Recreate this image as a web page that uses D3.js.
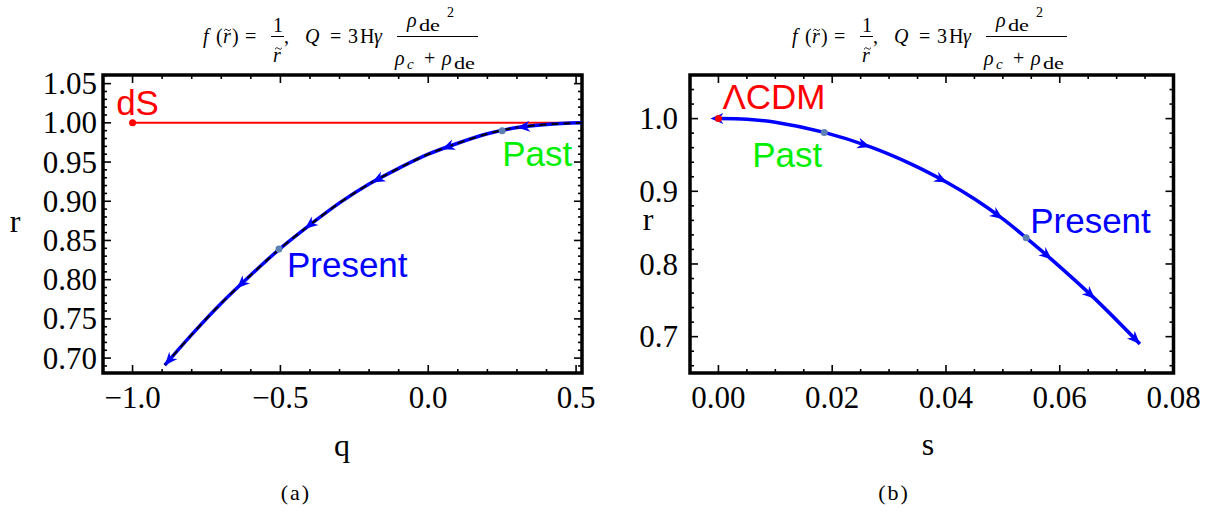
<!DOCTYPE html>
<html><head><meta charset="utf-8">
<script src="https://cdn.jsdelivr.net/npm/d3@7"></script>
<style>body{margin:0;background:#fff}svg{display:block}</style>
</head><body><svg id="c" width="1223" height="512"></svg>
<script>
// ---------- data ----------
// Panel (a): r vs q
const qValues  = [-0.891,-0.80,-0.70,-0.60,-0.50,-0.40,-0.30,-0.20,-0.10,0.00,0.10,0.20,0.30,0.40,0.52];
const rValuesA = [0.691,0.730,0.770,0.806,0.840,0.870,0.898,0.922,0.942,0.960,0.974,0.986,0.994,0.998,1.000];
const arrowQ   = [-0.891,-0.647,-0.417,-0.190,0.046,0.300];
const dSPoint  = [-1.0, 1.0];
const pastA    = [0.25, 0.990];
const presentA = [-0.505, 0.839];
const xTicksA  = [-1.0,-0.5,0.0,0.5];
const yTicksA  = [0.70,0.75,0.80,0.85,0.90,0.95,1.00,1.05];
// Panel (b): r vs s
const sValues  = [0.000,0.005,0.010,0.0186,0.0267,0.034,0.0402,0.0451,0.050,0.0541,0.0586,0.0662,0.0741];
const rValuesB = [1.000,0.999,0.995,0.981,0.961,0.937,0.912,0.889,0.862,0.836,0.806,0.752,0.690];
const arrowS   = [0.0267,0.0402,0.050,0.0586,0.0662,0.0741];
const lcdmPoint= [0.0, 1.0];
const pastB    = [0.0186, 0.981];
const presentB = [0.0541, 0.836];
const xTicksB  = [0.00,0.02,0.04,0.06,0.08];
const yTicksB  = [0.7,0.8,0.9,1.0];

const SERIF = "'Liberation Serif','Times New Roman',Times,serif";
const SANS = "'Liberation Sans',Arial,Helvetica,sans-serif";
const svg = d3.select("#c");
const BLUE="#0000ff", RED="#ff0000", GREEN="#00ee00", DOT="#5e81b5";

function panel(cfg){
  const x = d3.scaleLinear().domain(cfg.xd).range([cfg.l,cfg.r]);
  const y = d3.scaleLinear().domain(cfg.yd).range([cfg.b,cfg.t]);
  const g = svg.append("g");
  const tk = g.append("g").attr("stroke","#000").attr("stroke-width",1.6);
  const minorX = d3.range(Math.ceil(cfg.xd[0]/cfg.mx-1e-9)*cfg.mx, cfg.xd[1]+1e-9, cfg.mx);
  const minorY = d3.range(Math.ceil(cfg.yd[0]/cfg.my-1e-9)*cfg.my, cfg.yd[1]+1e-9, cfg.my);
  const isMajor = (v,step)=>Math.abs(v/step-Math.round(v/step))<1e-6;
  minorX.forEach(v=>{
    const L = isMajor(v,cfg.Mx)?8:4, px=x(v);
    tk.append("line").attr("x1",px).attr("x2",px).attr("y1",cfg.b).attr("y2",cfg.b-L);
    tk.append("line").attr("x1",px).attr("x2",px).attr("y1",cfg.t).attr("y2",cfg.t+L);
  });
  minorY.forEach(v=>{
    const L = isMajor(v,cfg.My)?8:4, py=y(v);
    tk.append("line").attr("y1",py).attr("y2",py).attr("x1",cfg.l).attr("x2",cfg.l+L);
    tk.append("line").attr("y1",py).attr("y2",py).attr("x1",cfg.r).attr("x2",cfg.r-L);
  });
  const lab = g.append("g").attr("font-family",SERIF).attr("font-size",31).attr("fill","#000");
  cfg.xt.forEach(v=>lab.append("text").attr("x",x(v)).attr("y",408).attr("text-anchor","middle").text(cfg.fx(v)));
  cfg.yt.forEach(v=>lab.append("text").attr("x",cfg.ylx).attr("y",y(v)).attr("dy","0.34em").attr("text-anchor","end").text(cfg.fy(v)));
  g.append("rect").attr("x",cfg.l).attr("y",cfg.t).attr("width",cfg.r-cfg.l).attr("height",cfg.b-cfg.t)
    .attr("fill","none").attr("stroke","#000").attr("stroke-width",3.5);
  return {x,y,g};
}

function arrowHead(g,x,y,X,Y,t,dir,fill){
  const interp = v=>{
    let i = d3.bisectLeft(X,v); i=Math.max(1,Math.min(X.length-1,i));
    const f=(v-X[i-1])/(X[i]-X[i-1]);
    return [x(v), y(Y[i-1]+f*(Y[i]-Y[i-1]))];
  };
  const p = interp(t);
  const span = (X[X.length-1]-X[0])*0.01;
  const q = interp(Math.max(X[0],Math.min(X[X.length-1], t - dir*span)));
  const ang = Math.atan2(p[1]-q[1], p[0]-q[0])*180/Math.PI;
  g.append("path").attr("d","M0,0L-13,-5.5L-9,0L-13,5.5Z").attr("fill",fill)
    .attr("transform",`translate(${p[0]},${p[1]}) rotate(${ang})`);
}

function drawTitle(x0){
  const t = svg.append("g").attr("font-family",SERIF).attr("font-size",20).attr("fill","#000");
  const txt=(dx,y,s,o={})=>{const e=t.append("text").attr("x",x0+dx).attr("y",y).text(s);
    if(o.i)e.attr("font-style","italic"); if(o.fs)e.attr("font-size",o.fs); if(o.a)e.attr("text-anchor",o.a);
    if(o.w)e.attr("textLength",o.w).attr("lengthAdjust","spacingAndGlyphs"); return e;};
  const tilde=(cx,cy)=>t.append("path")
    .attr("d",`M${x0+cx-3.5},${cy+0.8}Q${x0+cx-1.75},${cy-2.2} ${x0+cx},${cy}T${x0+cx+3.5},${cy-0.8}`)
    .attr("fill","none").attr("stroke","#000").attr("stroke-width",0.9);
  txt(0,43,"f",{i:1});
  txt(13,43,"(");
  txt(20,43,"r",{i:1});
  tilde(24.5,30);
  txt(29,43,")");
  txt(42,43,"=");
  txt(75,32,"1",{a:"middle"});
  t.append("line").attr("x1",x0+68).attr("x2",x0+81).attr("y1",36.5).attr("y2",36.5).attr("stroke","#000").attr("stroke-width",1);
  tilde(75.5,48.5);
  txt(74,62,"r",{i:1,a:"middle"});
  txt(81,43,",");
  txt(102,43,"Q",{i:1});
  txt(127,43,"=");
  txt(145,43,"3");
  txt(157,43,"H");
  txt(171,43,"γ",{i:1});
  t.append("line").attr("x1",x0+194).attr("x2",x0+275).attr("y1",36.5).attr("y2",36.5).attr("stroke","#000").attr("stroke-width",1);
  txt(204,27,"ρ",{i:1}); txt(216,31,"de",{fs:16,w:21}); txt(244,17,"2",{fs:14});
  txt(192,65,"ρ",{i:1}); txt(204,69,"c",{i:1,fs:15}); txt(221,65,"+"); txt(239,65,"ρ",{i:1}); txt(251,69,"de",{fs:16,w:21});
}

// ---------- panel (a) ----------
const A = panel({l:103,r:582,t:75,b:373,xd:[-1.1,0.52],yd:[0.681,1.061],mx:0.1,Mx:0.5,my:0.01,My:0.05,
  xt:xTicksA,yt:yTicksA,ylx:97,fx:v=>(v<0?"\u2212":"")+Math.abs(v).toFixed(1),fy:v=>v.toFixed(2)});
svg.append("clipPath").attr("id","ca").append("rect").attr("x",103).attr("y",75).attr("width",479).attr("height",298);
const pa = svg.append("g").attr("clip-path","url(#ca)");
pa.append("line").attr("x1",A.x(dSPoint[0])).attr("x2",A.x(0.52)).attr("y1",A.y(dSPoint[1])).attr("y2",A.y(dSPoint[1]))
  .attr("stroke",RED).attr("stroke-width",2);
const lineA = d3.line().x((d,i)=>A.x(qValues[i])).y((d,i)=>A.y(rValuesA[i])).curve(d3.curveCatmullRom);
pa.append("path").attr("d",lineA(qValues)).attr("fill","none").attr("stroke",BLUE).attr("stroke-width",3.5);
pa.append("path").attr("d",lineA(qValues)).attr("fill","none").attr("stroke","#000").attr("stroke-width",2).attr("stroke-dasharray","7,5");
arrowQ.forEach(t=>arrowHead(pa,A.x,A.y,qValues,rValuesA,t,-1,BLUE));
pa.append("circle").attr("cx",A.x(dSPoint[0])).attr("cy",A.y(dSPoint[1])).attr("r",3.5).attr("fill",RED);
pa.append("circle").attr("cx",A.x(pastA[0])).attr("cy",A.y(pastA[1])).attr("r",3.5).attr("fill",DOT);
pa.append("circle").attr("cx",A.x(presentA[0])).attr("cy",A.y(presentA[1])).attr("r",3.5).attr("fill",DOT);
const annA = svg.append("g").attr("font-family",SANS).attr("font-size",35);
annA.append("text").attr("x",A.x(dSPoint[0])+5).attr("y",A.y(dSPoint[1])-8).attr("text-anchor","middle").attr("fill",RED).text("dS");
annA.append("text").attr("x",A.x(pastA[0])).attr("y",A.y(pastA[1])+35).attr("fill",GREEN).text("Past");
annA.append("text").attr("x",A.x(presentA[0])+8).attr("y",A.y(presentA[1])+28).attr("fill",BLUE).text("Present");

// ---------- panel (b) ----------
const B = panel({l:690,r:1173.5,t:75,b:373,xd:[-0.005,0.08],yd:[0.65,1.06],mx:0.005,Mx:0.02,my:0.02,My:0.1,
  xt:xTicksB,yt:yTicksB,ylx:678,fx:v=>v.toFixed(2),fy:v=>v.toFixed(1)});
svg.append("clipPath").attr("id","cb").append("rect").attr("x",690).attr("y",75).attr("width",483.5).attr("height",298);
const pb = svg.append("g").attr("clip-path","url(#cb)");
const lineB = d3.line().x((d,i)=>B.x(sValues[i])).y((d,i)=>B.y(rValuesB[i])).curve(d3.curveCatmullRom);
pb.append("path").attr("d",lineB(sValues)).attr("fill","none").attr("stroke",BLUE).attr("stroke-width",3.5);
arrowS.forEach(t=>arrowHead(pb,B.x,B.y,sValues,rValuesB,t,1,BLUE));
pb.append("path").attr("d","M0,0L13,-5.5L9,0L13,5.5Z").attr("fill",BLUE)
  .attr("transform",`translate(${B.x(sValues[0])-8},${B.y(rValuesB[0])})`);
pb.append("circle").attr("cx",B.x(lcdmPoint[0])).attr("cy",B.y(lcdmPoint[1])).attr("r",3.5).attr("fill",RED);
pb.append("circle").attr("cx",B.x(pastB[0])).attr("cy",B.y(pastB[1])).attr("r",3.5).attr("fill",DOT);
pb.append("circle").attr("cx",B.x(presentB[0])).attr("cy",B.y(presentB[1])).attr("r",3.5).attr("fill",DOT);
const annB = svg.append("g").attr("font-family",SANS).attr("font-size",35);
annB.append("text").attr("x",B.x(lcdmPoint[0])+4).attr("y",B.y(lcdmPoint[1])-10).attr("fill",RED).text("ΛCDM");
annB.append("text").attr("x",B.x(pastB[0])-2).attr("y",B.y(pastB[1])+35).attr("text-anchor","end").attr("fill",GREEN).text("Past");
annB.append("text").attr("x",B.x(presentB[0])+4).attr("y",B.y(presentB[1])-5).attr("fill",BLUE).text("Present");

// ---------- axis labels, titles, captions ----------
const al = svg.append("g").attr("font-family",SERIF).attr("font-size",32).attr("fill","#000");
al.append("text").attr("x",15).attr("y",232).attr("text-anchor","middle").text("r");
al.append("text").attr("x",648).attr("y",230).attr("text-anchor","middle").text("r");
al.append("text").attr("x",342).attr("y",456).attr("text-anchor","middle").text("q");
al.append("text").attr("x",928).attr("y",455).attr("text-anchor","middle").text("s");
const cap = svg.append("g").attr("font-family",SERIF).attr("font-size",22).attr("letter-spacing",2).attr("fill","#000");
cap.append("text").attr("x",296).attr("y",500).attr("text-anchor","middle").text("(a)");
cap.append("text").attr("x",894).attr("y",500).attr("text-anchor","middle").text("(b)");
drawTitle(203);
drawTitle(792);
</script></body></html>
